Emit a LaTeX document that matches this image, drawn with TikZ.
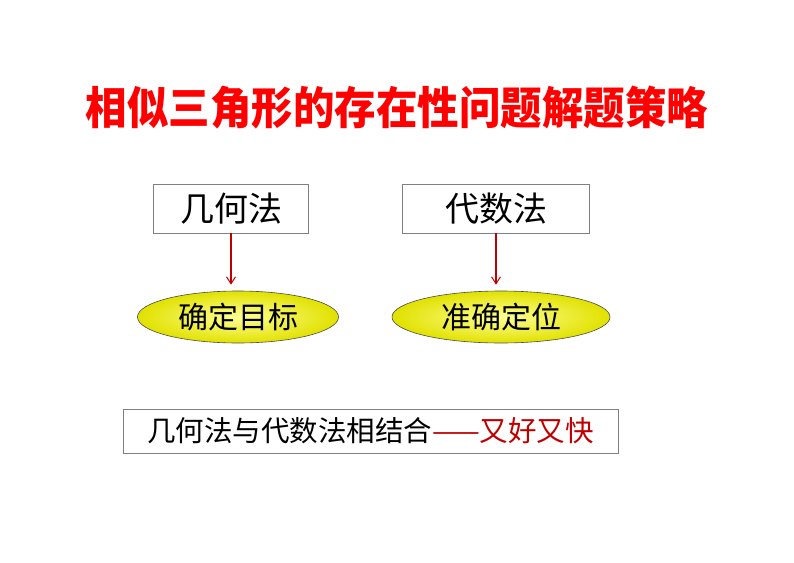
\documentclass[tikz,border=0pt]{standalone}
\usepackage{fontspec}
\newfontfamily\cjk{Noto Sans CJK SC}
\usetikzlibrary{arrows.meta, positioning, shapes.geometric}
\definecolor{darkred}{RGB}{192,0,0}
\definecolor{boxgray}{RGB}{128,128,128}
\definecolor{paleyellow}{RGB}{255,255,150}
\definecolor{rimyellow}{RGB}{225,225,0}
\tikzset{>/.tip={Straight Barb[length=7pt,width=9pt,line width=1pt]}}
\tikzset{box/.style={draw=boxgray, line width=0.8pt, fill=white, minimum height=49pt, inner sep=0pt}}
\tikzset{goal/.style={ellipse, draw=black!70, line width=0.6pt, shading=radial,
  inner color=paleyellow, outer color=rimyellow, minimum height=52pt, inner sep=0pt}}

\begin{document}
\begin{tikzpicture}[x=1pt, y=-1pt]
  \useasboundingbox (0,0) rectangle (794,562);
  \node(title) [text=red] at (397,108) {\scalebox{0.93}[1]{\cjk\bfseries\fontsize{44.6}{44.6}\selectfont 相似三角形的存在性问题解题策略}};
  \node(geo) [box, minimum width=155pt] at (231,208.5) {\cjk\fontsize{34}{34}\selectfont 几何法};
  \node(alg) [box, minimum width=187pt] at (496,208.5) {\cjk\fontsize{34}{34}\selectfont 代数法};
  \node(aim) [goal, minimum width=201pt] at (238,317) {\cjk\fontsize{30}{30}\selectfont 确定目标};
  \node(pos) [goal, minimum width=218pt] at (501,317) {\cjk\fontsize{30}{30}\selectfont 准确定位};
  \node(both) [box, minimum width=495pt, minimum height=44pt] at (370.5,431)
    {\cjk\fontsize{28.5}{28.5}\selectfont 几何法与代数法相结合\textcolor{darkred}{——又好又快}};
  \draw[->, darkred, line width=1.4pt, shorten >=6pt]
   (geo.south) -- (geo.south |- aim.north);
  \draw[->, darkred, line width=1.4pt, shorten >=6pt]
   (alg.south) -- (alg.south |- pos.north);
\end{tikzpicture}
\end{document}
